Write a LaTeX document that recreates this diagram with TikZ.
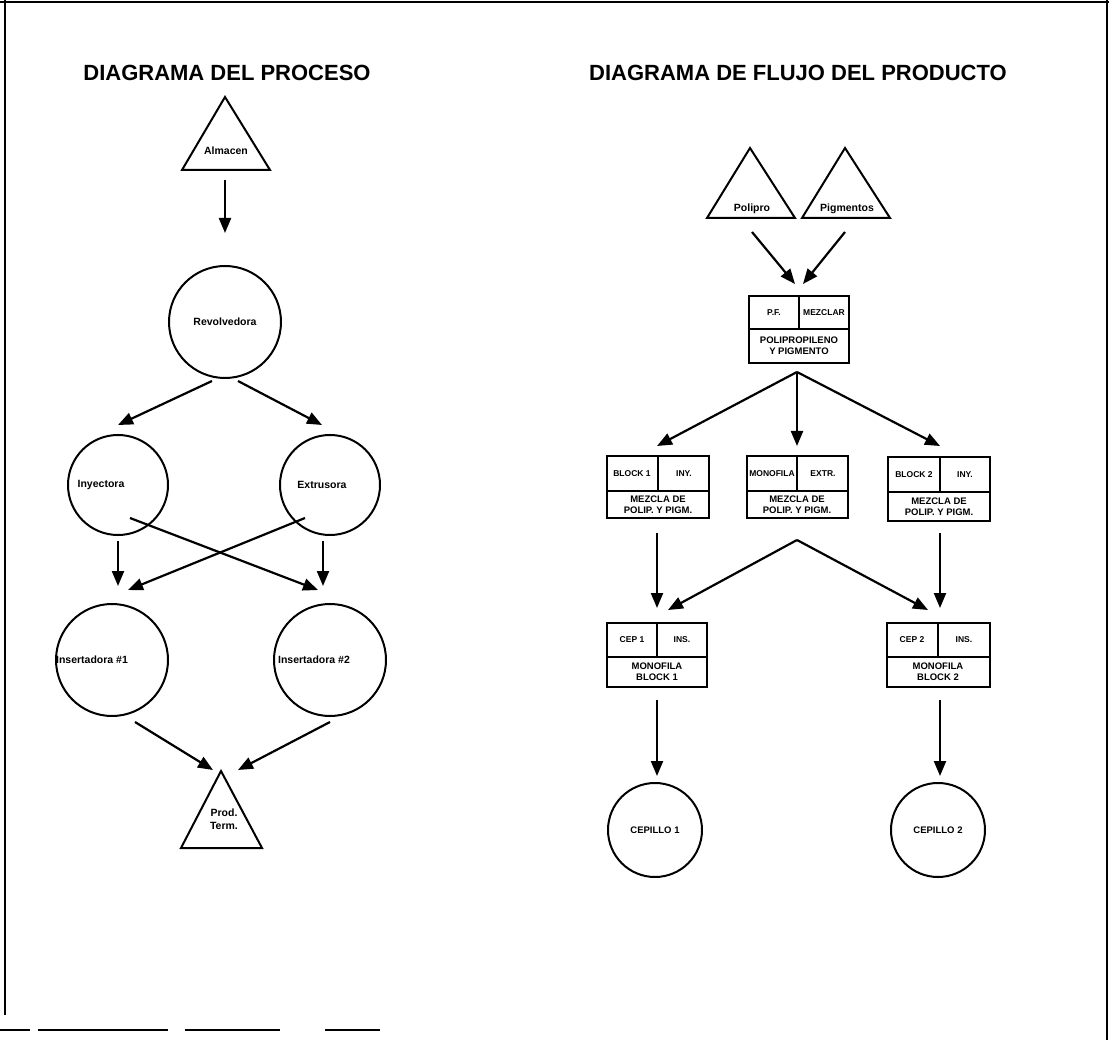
\documentclass[tikz,border=0pt]{standalone}
\usepackage{fontspec}
\setmainfont{Liberation Sans}
\usetikzlibrary{arrows.meta}

\begin{document}
\begin{tikzpicture}[x=1pt,y=-1pt,
  line join=miter,
  arr/.style={line width=2.2pt,-{Triangle[length=15pt,width=12pt]}},
  shp/.style={line width=2pt},
  frm/.style={line width=1.4pt},
  ttl/.style={font=\bfseries\fontsize{22}{26}\selectfont},
  clbl/.style={font=\bfseries\fontsize{10.5}{12.5}\selectfont,inner sep=0pt,align=center},
  tlbl/.style={font=\bfseries\fontsize{8.5}{10}\selectfont,inner sep=0pt,align=center},
  blbl/.style={font=\bfseries\fontsize{9.5}{11}\selectfont,inner sep=0pt,align=center}]
\useasboundingbox (0,0) rectangle (1109,1040);

% outer frame
\draw[frm] (0,2) -- (1109,2);
\draw[frm] (5,0) -- (5,1015);
\draw[frm] (1107,0) -- (1107,1040);
\draw[frm] (0,1030) -- (30,1030) (38,1030) -- (168,1030) (185,1030) -- (280,1030) (325,1030) -- (380,1030);

% titles
\node[ttl] (t1) at (227,73) {DIAGRAMA DEL PROCESO};
\node[ttl] (t2) at (798,73) {DIAGRAMA DE FLUJO DEL PRODUCTO};

% ---------- process diagram ----------
\draw[shp] (225,97) -- (270,170) -- (182,170) -- cycle;
\node[clbl] (alm) at (226,151) {Almacen};

\draw[shp] (225,322) circle (56);
\node[clbl] (rev) at (225,322) {Revolvedora};

\draw[shp] (118,485) circle (50);
\node[clbl] (iny) at (101,485) {Inyectora};

\draw[shp] (330,485) circle (50);
\node[clbl] (ext) at (322,485) {Extrusora};

\draw[shp] (112,660) circle (56);
\node[clbl] (ins1) at (92,660) {Insertadora \#1};

\draw[shp] (330,660) circle (56);
\node[clbl] (ins2) at (314,660) {Insertadora \#2};

\draw[shp] (221,771) -- (262,848) -- (181,848) -- cycle;
\node[clbl] (prod) at (224,819) {Prod.\\Term.};

\coordinate (almO) at (225,180);  \coordinate (revI) at (225,233);
\coordinate (revL) at (212,381);  \coordinate (inyI) at (118,425);
\coordinate (revR) at (238,381);  \coordinate (extI) at (322,425);
\coordinate (inyO) at (118,541);  \coordinate (in1I) at (118,586);
\coordinate (extO) at (323,541);  \coordinate (in2I) at (323,586);
\coordinate (inyX) at (130,518);  \coordinate (in2X) at (318,590);
\coordinate (extX) at (305,518);  \coordinate (in1X) at (128,590);
\coordinate (in1O) at (135,722);  \coordinate (prL) at (213,770);
\coordinate (in2O) at (330,722);  \coordinate (prR) at (238,770);

\draw[arr] (almO) -- (revI);
\draw[arr] (revL) -- (inyI);
\draw[arr] (revR) -- (extI);
\draw[arr] (inyO) -- (in1I);
\draw[arr] (extO) -- (in2I);
\draw[arr] (inyX) -- (in2X);
\draw[arr] (extX) -- (in1X);
\draw[arr] (in1O) -- (prL);
\draw[arr] (in2O) -- (prR);

% ---------- product flow diagram ----------
\draw[shp] (750,148) -- (795,218) -- (707,218) -- cycle;
\node[clbl] (pol) at (752,209) {Polipro};
\draw[shp] (845,148) -- (890,218) -- (802,218) -- cycle;
\node[clbl] (pig) at (847,209) {Pigmentos};

% mixing box
\draw[shp] (749,296) rectangle (849,363);
\draw[shp] (749,329) -- (849,329) (799,296) -- (799,329);
\node[tlbl] (pf) at (774,313) {P.F.};
\node[tlbl] (mez) at (824,313) {MEZCLAR};
\node[blbl] (pyp) at (799,346) {POLIPROPILENO\\Y PIGMENTO};

% first row boxes
\draw[shp] (607,456) rectangle (709,518);
\draw[shp] (607,491) -- (709,491) (658,456) -- (658,491);
\node[tlbl] (b1a) at (632,474) {BLOCK 1};
\node[tlbl] (b1b) at (684,474) {INY.};
\node[blbl] (b1c) at (658,505) {MEZCLA DE\\POLIP. Y PIGM.};

\draw[shp] (747,456) rectangle (848,518);
\draw[shp] (747,491) -- (848,491) (797,456) -- (797,491);
\node[tlbl] (b2a) at (772,474) {MONOFILA};
\node[tlbl] (b2b) at (823,474) {EXTR.};
\node[blbl] (b2c) at (797,505) {MEZCLA DE\\POLIP. Y PIGM.};

\draw[shp] (888,457) rectangle (990,521);
\draw[shp] (888,492) -- (990,492) (940,457) -- (940,492);
\node[tlbl] (b3a) at (914,475) {BLOCK 2};
\node[tlbl] (b3b) at (965,475) {INY.};
\node[blbl] (b3c) at (939,507) {MEZCLA DE\\POLIP. Y PIGM.};

% second row boxes
\draw[shp] (607,623) rectangle (707,687);
\draw[shp] (607,657) -- (707,657) (657,623) -- (657,657);
\node[tlbl] (c1a) at (632,640) {CEP 1};
\node[tlbl] (c1b) at (682,640) {INS.};
\node[blbl] (c1c) at (657,672) {MONOFILA\\BLOCK 1};

\draw[shp] (887,623) rectangle (990,687);
\draw[shp] (887,657) -- (990,657) (938,623) -- (938,657);
\node[tlbl] (c2a) at (912,640) {CEP 2};
\node[tlbl] (c2b) at (964,640) {INS.};
\node[blbl] (c2c) at (938,672) {MONOFILA\\BLOCK 2};

% brushes
\draw[shp] (655,830) circle (47);
\node[blbl] (cp1) at (655,830) {CEPILLO 1};
\draw[shp] (938,830) circle (47);
\node[blbl] (cp2) at (938,830) {CEPILLO 2};

\coordinate (polO) at (752,232);  \coordinate (mixL) at (795,284);
\coordinate (pigO) at (845,232);  \coordinate (mixR) at (803,284);
\coordinate (mixO) at (797,372);
\coordinate (b1I) at (657,446);   \coordinate (b2I) at (797,446);  \coordinate (b3I) at (940,446);
\coordinate (b1O) at (657,533);   \coordinate (c1I) at (657,608);
\coordinate (b3O) at (940,533);   \coordinate (c2I) at (940,608);
\coordinate (b2O) at (797,540);
\coordinate (c1J) at (668,610);   \coordinate (c2J) at (928,610);
\coordinate (c1O) at (657,700);   \coordinate (cp1I) at (657,776);
\coordinate (c2O) at (940,700);   \coordinate (cp2I) at (940,776);

\draw[arr] (polO) -- (mixL);
\draw[arr] (pigO) -- (mixR);
\draw[arr] (mixO) -- (b1I);
\draw[arr] (mixO) -- (b2I);
\draw[arr] (mixO) -- (b3I);
\draw[arr] (b1O) -- (c1I);
\draw[arr] (b3O) -- (c2I);
\draw[arr] (b2O) -- (c1J);
\draw[arr] (b2O) -- (c2J);
\draw[arr] (c1O) -- (cp1I);
\draw[arr] (c2O) -- (cp2I);
\end{tikzpicture}
\end{document}
